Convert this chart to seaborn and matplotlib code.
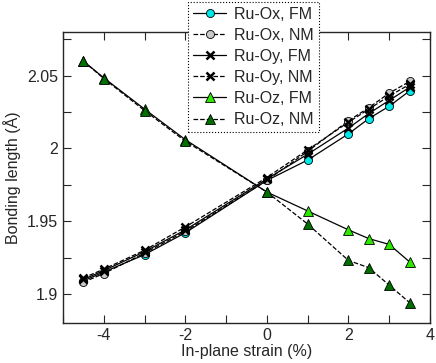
import numpy as np
import pandas as pd
import matplotlib as mpl
mpl.use("Agg")
import matplotlib.pyplot as plt
import seaborn as sns
from matplotlib.ticker import MultipleLocator, FuncFormatter

# ============================================================
# Data
# ============================================================
strain = [-4.5, -4, -3, -2, 0, 1, 2, 2.5, 3, 3.5]

ox_fm = [1.909, 1.915, 1.927, 1.942, 1.978, 1.992, 2.010, 2.0205, 2.029, 2.0395]
ox_nm = [1.908, 1.914, 1.928, 1.943, 1.978, 1.998, 2.019, 2.028, 2.038, 2.046]
oy_fm = [1.910, 1.916, 1.929, 1.944, 1.979, 1.996, 2.014, 2.024, 2.033, 2.042]
oy_nm = [1.911, 1.917, 1.930, 1.946, 1.980, 1.999, 2.018, 2.027, 2.036, 2.044]
oz_fm = [2.060, 2.0485, 2.027, 2.006, 1.970, 1.957, 1.944, 1.938, 1.934, 1.922]
oz_nm = [2.060, 2.048, 2.026, 2.005, 1.970, 1.948, 1.923, 1.918, 1.906, 1.894]

labels = ["Ru-Ox, FM", "Ru-Ox, NM", "Ru-Oy, FM", "Ru-Oy, NM", "Ru-Oz, FM", "Ru-Oz, NM"]
series = [ox_fm, ox_nm, oy_fm, oy_nm, oz_fm, oz_nm]

# style per series: (marker, facecolor, linestyle)
STYLES = {
    "Ru-Ox, FM": ("o", "#00e8e8", "-"),
    "Ru-Ox, NM": ("o", "#c8c8c8", "--"),
    "Ru-Oy, FM": ("x", "black", "-"),
    "Ru-Oy, NM": ("x", "black", "--"),
    "Ru-Oz, FM": ("^", "#2ee600", "-"),
    "Ru-Oz, NM": ("^", "#006f00", "--"),
}

FONT_SIZE = 11.5

df = pd.concat(
    [pd.DataFrame({"strain": strain, "length": v, "series": lab}) for lab, v in zip(labels, series)],
    ignore_index=True,
)

# ============================================================
# Plot
# ============================================================
sns.set_style("ticks")
plt.rcParams["font.family"] = ["Liberation Sans", "DejaVu Sans"]

fig = plt.figure(figsize=(4.36, 3.63), dpi=100)
ax = fig.add_axes([63 / 436, 1 - 323 / 363, (430 - 63) / 436, (323 - 32) / 363])

for lab in labels:
    marker, fc, ls = STYLES[lab]
    sub = df[df["series"] == lab]
    kw = dict(marker=marker, linestyle=ls, color="black", linewidth=0.9, label=lab)
    if marker == "x":
        kw.update(markersize=6, markeredgewidth=1.8, markeredgecolor="black")
    elif marker == "^":
        kw.update(markersize=6.5, markerfacecolor=fc, markeredgecolor="black", markeredgewidth=0.6)
    else:
        kw.update(markersize=5.8, markerfacecolor=fc, markeredgecolor="black", markeredgewidth=0.6)
    sns.lineplot(data=sub, x="strain", y="length", ax=ax, sort=False, **kw)

ax.set_xlim(-5, 4)
ax.set_ylim(1.88, 2.08)
ax.xaxis.set_major_locator(MultipleLocator(2))
ax.xaxis.set_minor_locator(MultipleLocator(1))
ax.yaxis.set_major_locator(MultipleLocator(0.05))
ax.yaxis.set_minor_locator(MultipleLocator(0.025))
ax.yaxis.set_major_formatter(FuncFormatter(lambda v, p: f"{v:g}"))
ax.xaxis.set_major_formatter(FuncFormatter(lambda v, p: f"{v:g}"))

ax.tick_params(which="both", direction="in", top=True, right=True,
               labelsize=FONT_SIZE, width=0.8, length=6)
for s in ax.spines.values():
    s.set_linewidth(1.0)

ax.set_xlabel("In-plane strain (%)", fontsize=FONT_SIZE, labelpad=1)
ax.set_ylabel("Bonding length (Å)", fontsize=FONT_SIZE, labelpad=4)

leg = ax.legend(
    loc="upper left",
    bbox_to_anchor=(188 / 436, 1 - 2 / 363),
    bbox_transform=fig.transFigure,
    fontsize=FONT_SIZE,
    frameon=True,
    fancybox=False,
    framealpha=1,
    borderpad=0.3,
    labelspacing=0.38,
    handlelength=2.1,
    handletextpad=0.5,
    borderaxespad=0,
)
leg.get_frame().set_edgecolor("black")
leg.get_frame().set_linestyle(":")
leg.get_frame().set_linewidth(0.8)

fig.savefig("out.png", dpi=100)
